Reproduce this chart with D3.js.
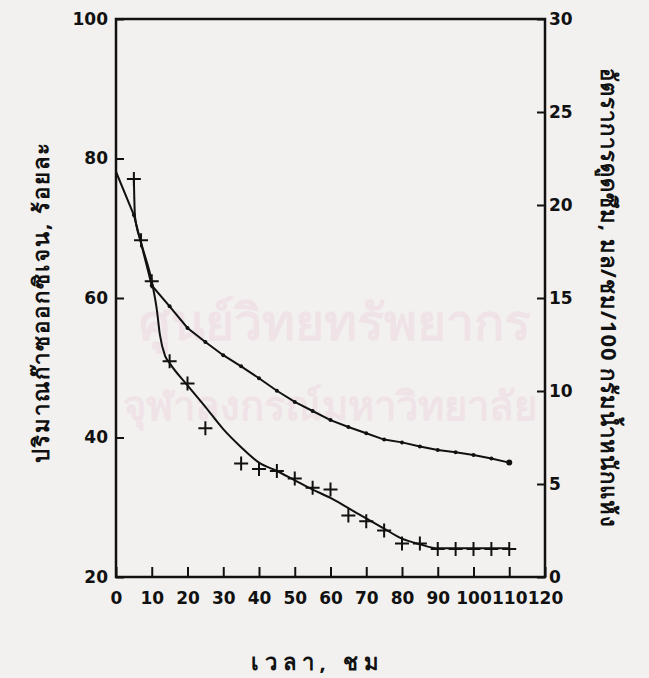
<!DOCTYPE html>
<html>
<head>
<meta charset="utf-8">
<script src="https://cdn.jsdelivr.net/npm/d3@7"></script>
<style>
  body { margin: 0; background: #f2f1ef; }
  svg { display: block; }
  .tick text { font-family: "DejaVu Sans", sans-serif; font-weight: bold; font-size: 17px; fill: #111; }
  .title { font-family: "Noto Sans", "DejaVu Sans", sans-serif; font-size: 22px; font-weight: bold; fill: #111; }
</style>
</head>
<body>
<svg id="chart" width="649" height="678"></svg>
<script>
"use strict";
// oxygen curve (left axis, %), points every 5 h
const oxTime = [0, 5, 10, 15, 20, 25, 30, 35, 40, 45, 50, 55, 60, 65, 70, 75, 80, 85, 90, 95, 100, 105, 110];
const oxValue = [78.1, 71.9, 61.8, 58.8, 55.7, 53.7, 51.8, 50.2, 48.5, 46.7, 45.1, 43.8, 42.5, 41.5, 40.6, 39.7, 39.3, 38.7, 38.2, 37.9, 37.5, 37.0, 36.4];

// absorption rate measurements (right axis), "+" marks
const rateTime = [5, 7, 10, 15, 20, 25, 35, 40, 45, 50, 55, 60, 65, 70, 75, 80, 85, 90, 95, 100, 105, 110];
const rateValue = [21.4, 18.1, 15.9, 11.6, 10.4, 8.0, 6.1, 5.8, 5.7, 5.3, 4.8, 4.7, 3.3, 3.0, 2.5, 1.8, 1.8, 1.5, 1.5, 1.5, 1.5, 1.5];

// hand drawn fit through the "+" marks (right axis)
const fitTime = [5, 5.3, 7, 10, 11.4, 12.3, 13.7, 15, 20, 25, 30, 35, 40, 45, 50, 55, 60, 65, 70, 75, 80, 85, 90, 95, 100, 105, 110];
const fitValue = [21.4, 19.4, 18.0, 15.9, 14.4, 13.0, 11.9, 11.5, 10.3, 9.15, 7.95, 6.98, 6.15, 5.7, 5.2, 4.7, 4.25, 3.7, 3.15, 2.6, 2.06, 1.76, 1.54, 1.54, 1.54, 1.54, 1.54];

const xTicks = [0, 10, 20, 30, 40, 50, 60, 70, 80, 90, 100, 110, 120];
const leftTicks = [20, 40, 60, 80, 100];
const rightTicks = [0, 5, 10, 15, 20, 25, 30];

const xTitle = "เวลา, ชม";
const leftTitle = "ปริมาณก๊าซออกซิเจน, ร้อยละ";
const rightTitle = "อัตราการดูดซึม, มล/ชม/100 กรัมน้ำหนักแห้ง";
const watermark = ["ศูนย์วิทยทรัพยากร", "จุฬาลงกรณ์มหาวิทยาลัย"];

const margin = { top: 19, right: 104, bottom: 101, left: 116 };
const svg = d3.select("#chart");
const width = +svg.attr("width") - margin.left - margin.right;
const height = +svg.attr("height") - margin.top - margin.bottom;

// faint watermark of the scanned page, kept inside the frame
const wm = svg.append("g").attr("class", "watermark")
    .style("font-family", "'Noto Sans', 'DejaVu Sans', sans-serif")
    .style("font-weight", "bold")
    .style("fill", "#f0e3e8");
wm.append("text").attr("x", 335).attr("y", 340).attr("text-anchor", "middle")
    .style("font-size", "50px").text(watermark[0]);
wm.append("text").attr("x", 330).attr("y", 420).attr("text-anchor", "middle")
    .style("font-size", "40px").text(watermark[1]);

const x = d3.scaleLinear().domain([0, 120]).range([0, width]);
const yL = d3.scaleLinear().domain([20, 100]).range([height, 0]);
const yR = d3.scaleLinear().domain([0, 30]).range([height, 0]);

const g = svg.append("g").attr("transform", `translate(${margin.left},${margin.top})`);

// axes, ticks point inward
g.append("g").attr("class", "axis axis--x")
    .attr("transform", `translate(0,${height})`)
    .call(d3.axisBottom(x).tickValues(xTicks).tickSizeInner(-10).tickSizeOuter(0).tickPadding(15));
g.append("g").attr("class", "axis axis--y")
    .call(d3.axisLeft(yL).tickValues(leftTicks).tickSizeInner(-8).tickSizeOuter(0).tickPadding(8));
g.append("g").attr("class", "axis axis--y2")
    .attr("transform", `translate(${width},0)`)
    .call(d3.axisRight(yR).tickValues(rightTicks).tickSizeInner(-8).tickSizeOuter(0).tickPadding(4));
g.selectAll(".axis .domain").remove();
g.selectAll(".axis line").attr("stroke", "#111").attr("stroke-width", 2);
g.selectAll(".axis text").attr("font-size", null).attr("font-family", null);

// frame
g.append("rect")
    .attr("x", 0).attr("y", 0)
    .attr("width", width).attr("height", height)
    .style("fill", "none")
    .style("stroke", "#111")
    .style("stroke-width", 2.5);

// oxygen curve with dots
const ox = oxTime.map((t, i) => ({ t: t, v: oxValue[i] }));
g.append("path")
    .datum(ox)
    .attr("d", d3.line().x(d => x(d.t)).y(d => yL(d.v)))
    .style("fill", "none")
    .style("stroke", "#111")
    .style("stroke-width", 2);
g.append("g").selectAll("circle")
    .data(ox.slice(1))
    .enter()
    .append("circle")
    .attr("cx", d => x(d.t))
    .attr("cy", d => yL(d.v))
    .attr("r", (d, i) => i === ox.length - 2 ? 3 : 2)
    .style("fill", "#111");

// fitted rate curve
const fit = fitTime.map((t, i) => ({ t: t, v: fitValue[i] }));
g.append("path")
    .datum(fit)
    .attr("d", d3.line().x(d => x(d.t)).y(d => yR(d.v)).curve(d3.curveMonotoneX))
    .style("fill", "none")
    .style("stroke", "#111")
    .style("stroke-width", 2);

// "+" measurements
const rate = rateTime.map((t, i) => ({ t: t, v: rateValue[i] }));
g.append("g").selectAll("path")
    .data(rate)
    .enter()
    .append("path")
    .attr("transform", d => `translate(${x(d.t)},${yR(d.v)})`)
    .attr("d", "M-7,0H7M0,-7V7")
    .style("stroke", "#111")
    .style("stroke-width", 2);

// titles
svg.append("text").attr("class", "title")
    .attr("text-anchor", "middle")
    .attr("x", 318).attr("y", 670)
    .style("letter-spacing", "6px")
    .text(xTitle);
svg.append("text").attr("class", "title")
    .attr("text-anchor", "middle")
    .attr("transform", "translate(49,302) rotate(-90)")
    .style("letter-spacing", "2px")
    .text(leftTitle);
svg.append("text").attr("class", "title")
    .attr("text-anchor", "middle")
    .attr("transform", "translate(601,298) rotate(90)")
    .style("letter-spacing", "1px")
    .text(rightTitle);
</script>
</body>
</html>
